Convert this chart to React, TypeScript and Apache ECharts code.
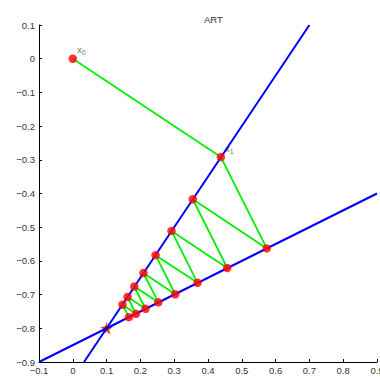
import React, { useEffect, useRef } from "react";
import * as echarts from "echarts";

// Constraint lines (endpoints)
const lineA: [number, number][] = [[0.0333, -0.9], [0.7, 0.1]];
const lineB: [number, number][] = [[-0.1, -0.9], [0.9, -0.4]];

// ART iterates x0, x1, ...
const iterX = [0, 0.438, 0.574, 0.355, 0.457, 0.292, 0.369, 0.245, 0.303, 0.209, 0.253, 0.182, 0.215, 0.162, 0.187, 0.147, 0.166];
const iterY = [0, -0.292, -0.563, -0.417, -0.621, -0.511, -0.665, -0.583, -0.699, -0.636, -0.723, -0.676, -0.742, -0.707, -0.757, -0.73, -0.767];

// Solution (star)
const solution: [number, number] = [0.1, -0.8];

// Point labels
const labelNames = ["0", "1"];

const xTicks = { min: -0.1, max: 0.9, interval: 0.1 };
const yTicks = { min: -0.9, max: 0.1, interval: 0.1 };

const FONT = "Liberation Sans, Arial, Helvetica, sans-serif";

const fmt = (v: number) => {
  if (Math.abs(v) < 1e-9) return "0";
  const s = v.toFixed(1);
  return s.replace("-", "\u2212");
};

const starPath =
  "path://M50,0 L61,35 L98,35 L68,57 L79,91 L50,70 L21,91 L32,57 L2,35 L39,35 Z";

export default function App() {
  const ref = useRef<HTMLDivElement>(null);
  useEffect(() => {
    if (!ref.current) return;
    const chart = echarts.init(ref.current, undefined, { renderer: "svg" });
    const iterates = iterX.map((x, i) => [x, iterY[i]]);
    const axisCommon = {
      type: "value" as const,
      axisLine: { show: true, onZero: false, lineStyle: { color: "#000", width: 1 } },
      axisTick: { show: true, inside: true, length: 3, lineStyle: { color: "#000" } },
      splitLine: { show: false },
      axisLabel: {
        color: "#333",
        fontSize: 9.5,
        fontFamily: FONT,
        formatter: fmt,
        showMinLabel: true,
        showMaxLabel: true,
      },
    };
    chart.setOption({
      animation: false,
      backgroundColor: "#fff",
      title: {
        text: "ART",
        left: 199,
        top: 9,
        textStyle: { fontSize: 9.5, fontWeight: "normal", color: "#333", fontFamily: FONT },
      },
      grid: {
        left: 39,
        right: 3,
        top: 25,
        bottom: 15,
        containLabel: false,
        outerBoundsMode: "none",
      },
      xAxis: {
        ...axisCommon,
        min: xTicks.min,
        max: xTicks.max,
        interval: xTicks.interval,
        axisLabel: { ...axisCommon.axisLabel, margin: 3 },
      },
      yAxis: {
        ...axisCommon,
        min: yTicks.min,
        max: yTicks.max,
        interval: yTicks.interval,
        axisLabel: { ...axisCommon.axisLabel, margin: 4 },
      },
      series: [
        {
          type: "scatter",
          data: [solution],
          symbol: starPath,
          symbolSize: 13,
          itemStyle: { color: "#ff0000" },
          z: 1,
        },
        {
          type: "line",
          data: lineA,
          showSymbol: false,
          symbol: "none",
          lineStyle: { color: "#0000ff", width: 2 },
          z: 2,
        },
        {
          type: "line",
          data: lineB,
          showSymbol: false,
          symbol: "none",
          lineStyle: { color: "#0000ff", width: 2 },
          z: 2,
        },
        {
          type: "scatter",
          data: [solution],
          symbol: "path://M0,0 L10,10 M10,0 L0,10",
          symbolSize: 4,
          itemStyle: { color: "none", borderColor: "#000", borderWidth: 1 },
          z: 3,
        },
        {
          type: "line",
          data: iterates,
          showSymbol: false,
          symbol: "none",
          lineStyle: { color: "#00ee00", width: 1.8 },
          z: 3,
        },
        {
          type: "scatter",
          data: iterates,
          symbol: "circle",
          symbolSize: 8.5,
          itemStyle: { color: "#ff0000" },
          z: 4,
        },
        {
          type: "scatter",
          data: labelNames.map((n, i) => ({ value: iterates[i], name: n })),
          symbolSize: 1,
          itemStyle: { color: "rgba(0,0,0,0)" },
          z: 5,
          label: {
            show: true,
            position: [5, -13],
            formatter: (p: any) => `{x|x}{s|${p.name}}`,
            rich: {
              x: { fontSize: 9, color: "#444", fontFamily: FONT, lineHeight: 10 },
              s: { fontSize: 7, color: "#444", fontFamily: FONT, padding: [5, 0, 0, 0], lineHeight: 10 },
            },
          },
        },
      ],
    });
    return () => chart.dispose();
  }, []);
  return (
    <div
      ref={ref}
      style={{ position: "fixed", left: 0, top: 0, width: 380, height: 377 }}
    />
  );
}
